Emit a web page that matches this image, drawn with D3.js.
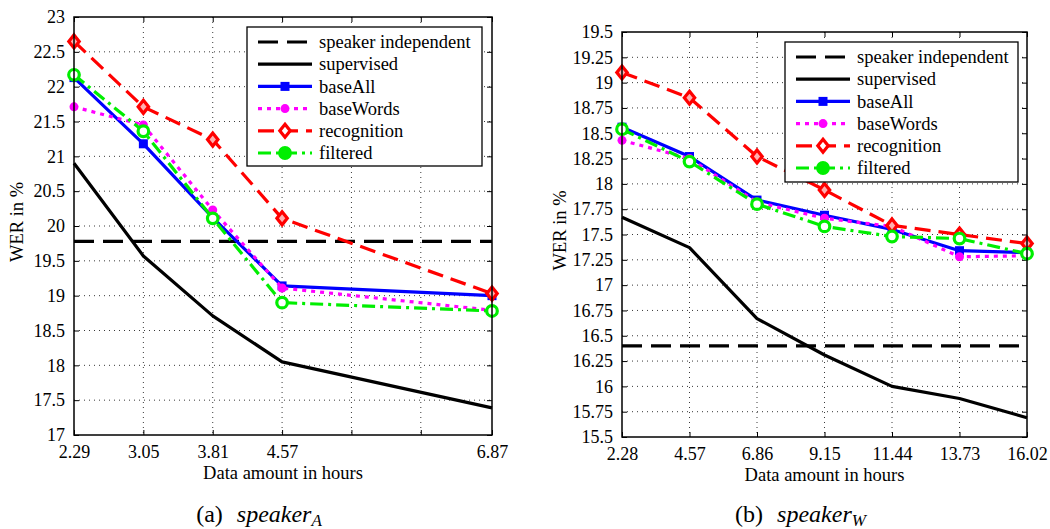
<!DOCTYPE html>
<html>
<head>
<meta charset="utf-8">
<script src="https://cdn.jsdelivr.net/npm/d3@7"></script>
<style>
  body { margin: 0; background: #fff; }
  svg text { font-family: "Liberation Serif", "Times New Roman", Times, serif; }
</style>
</head>
<body>
<div id="chart"></div>
<script>
// ---- panel (a): speaker A ----
const hoursA = [2.29, 3.05, 3.81, 4.57, 6.87];
const xTicksA = [2.29, 3.05, 3.81, 4.57, 5.33, 6.09, 6.87];
const xLabelsA = ["2.29", "3.05", "3.81", "4.57", "", "", "6.87"];
const yTicksA = [17, 17.5, 18, 18.5, 19, 19.5, 20, 20.5, 21, 21.5, 22, 22.5, 23];
const indepA = 19.78;
const supervisedA = [20.90, 19.57, 18.71, 18.05, 17.39];
const baseAllA = [22.13, 21.18, 20.12, 19.14, 19.00];
const baseWordsA = [21.71, 21.45, 20.23, 19.11, 18.79];
const recognitionA = [22.65, 21.71, 21.24, 20.11, 19.03];
const filteredA = [22.17, 21.36, 20.11, 18.90, 18.78];

// ---- panel (b): speaker W ----
const hoursW = [2.28, 4.57, 6.86, 9.15, 11.44, 13.73, 16.02];
const xTicksW = [2.28, 4.57, 6.86, 9.15, 11.44, 13.73, 16.02];
const xLabelsW = ["2.28", "4.57", "6.86", "9.15", "11.44", "13.73", "16.02"];
const yTicksW = [15.5, 15.75, 16, 16.25, 16.5, 16.75, 17, 17.25, 17.5, 17.75, 18, 18.25, 18.5, 18.75, 19, 19.25, 19.5];
const indepW = 16.40;
const supervisedW = [17.67, 17.37, 16.67, 16.31, 16.00, 15.88, 15.69];
const baseAllW = [18.56, 18.27, 17.84, 17.69, 17.55, 17.34, 17.32];
const baseWordsW = [18.43, 18.25, 17.82, 17.66, 17.58, 17.28, 17.29];
const recognitionW = [19.10, 18.85, 18.27, 17.94, 17.59, 17.50, 17.41];
const filteredW = [18.54, 18.22, 17.80, 17.58, 17.48, 17.46, 17.31];

const legendNames = ["speaker independent", "supervised", "baseAll", "baseWords", "recognition", "filtered"];

const styles = {
    indep: { color: "#000", dash: "20,9", marker: null },
    supervised: { color: "#000", dash: null, marker: null },
    baseAll: { color: "#0000ff", dash: null, marker: "square" },
    baseWords: { color: "#ff00ff", dash: "4,5", marker: "dot" },
    recognition: { color: "#ff0000", dash: "16,8", marker: "diamond" },
    filtered: { color: "#00ee00", dash: "13,5,3,5", marker: "circle" }
};
const styleOrder = ["indep", "supervised", "baseAll", "baseWords", "recognition", "filtered"];

const FONT = "Liberation Serif, Times New Roman, serif";
const width = 1050, height = 529;
const svg = d3.select("#chart").append("svg")
    .attr("width", width).attr("height", height);

function drawMarker(g, kind, color, cx, cy, legend) {
    if (kind === "square") {
        g.append("rect").attr("x", cx - 4.5).attr("y", cy - 4.5)
            .attr("width", 9).attr("height", 9).attr("fill", color);
    } else if (kind === "dot") {
        g.append("circle").attr("cx", cx).attr("cy", cy).attr("r", 4.5).attr("fill", color);
    } else if (kind === "diamond") {
        const s = 6.5;
        g.append("path")
            .attr("d", `M${cx},${cy - s}L${cx + s * 0.8},${cy}L${cx},${cy + s}L${cx - s * 0.8},${cy}Z`)
            .attr("fill", legend ? "#fff" : "#ffb0b0").attr("stroke", color).attr("stroke-width", 3.2);
    } else if (kind === "circle") {
        g.append("circle").attr("cx", cx).attr("cy", cy).attr("r", 5.3)
            .attr("fill", legend ? color : "#fff").attr("stroke", color).attr("stroke-width", 3.2);
    }
}

function drawPanel(p) {
    const { left, right, top, bottom } = p.box;
    const x = d3.scaleLinear().domain(d3.extent(p.xTicks)).range([left, right]);
    const y = d3.scaleLinear().domain(d3.extent(p.yTicks)).range([bottom, top]);
    const g = svg.append("g");

    // grid
    g.append("g").selectAll("line").data(p.xTicks.slice(1, -1)).join("line")
        .attr("x1", d => x(d)).attr("x2", d => x(d)).attr("y1", top).attr("y2", bottom)
        .attr("stroke", "#222").attr("stroke-width", 0.9).attr("stroke-dasharray", "1,4");
    g.append("g").selectAll("line").data(p.yTicks.slice(1, -1)).join("line")
        .attr("y1", d => y(d)).attr("y2", d => y(d)).attr("x1", left).attr("x2", right)
        .attr("stroke", "#222").attr("stroke-width", 0.9).attr("stroke-dasharray", "1,4");

    // axes with inward ticks on all sides
    const fmtX = (d, i) => p.xLabels[i];
    g.append("g").attr("transform", `translate(0,${bottom})`)
        .call(d3.axisBottom(x).tickValues(p.xTicks).tickFormat(fmtX).tickSizeInner(-5).tickSizeOuter(0).tickPadding(10))
        .call(a => a.select(".domain").remove());
    g.append("g").attr("transform", `translate(0,${top})`)
        .call(d3.axisTop(x).tickValues(p.xTicks).tickFormat("").tickSizeInner(-5).tickSizeOuter(0))
        .call(a => a.select(".domain").remove());
    g.append("g").attr("transform", `translate(${left},0)`)
        .call(d3.axisLeft(y).tickValues(p.yTicks).tickFormat(d3.format("")).tickSizeInner(-5).tickSizeOuter(0).tickPadding(9))
        .call(a => a.select(".domain").remove());
    g.append("g").attr("transform", `translate(${right},0)`)
        .call(d3.axisRight(y).tickValues(p.yTicks).tickFormat("").tickSizeInner(-5).tickSizeOuter(0))
        .call(a => a.select(".domain").remove());
    g.selectAll(".tick text").attr("font-size", 18).attr("fill", "#000")
        .attr("font-family", FONT);
    g.selectAll(".tick line").attr("stroke", "#000");

    // series
    const series = [
        ["indep", null],
        ["supervised", p.supervised],
        ["baseAll", p.baseAll],
        ["baseWords", p.baseWords],
        ["recognition", p.recognition],
        ["filtered", p.filtered]
    ];
    const line = d3.line().x(d => x(d[0])).y(d => y(d[1]));
    series.forEach(([key, vals]) => {
        const st = styles[key];
        const pts = key === "indep"
            ? [[x.domain()[0], p.indep], [x.domain()[1], p.indep]]
            : p.hours.map((h, i) => [h, vals[i]]);
        g.append("path").datum(pts).attr("d", line)
            .attr("fill", "none").attr("stroke", st.color).attr("stroke-width", 3.2)
            .attr("stroke-linejoin", "round")
            .attr("stroke-dasharray", st.dash);
        if (st.marker) {
            const mg = g.append("g");
            pts.forEach(d => drawMarker(mg, st.marker, st.color, x(d[0]), y(d[1]), false));
        }
    });

    // frame
    g.append("rect").attr("x", left).attr("y", top)
        .attr("width", right - left).attr("height", bottom - top)
        .attr("fill", "none").attr("stroke", "#000").attr("stroke-width", 1.5);

    // legend
    const L = p.legend;
    const lg = g.append("g");
    lg.append("rect").attr("x", L.x).attr("y", L.y).attr("width", L.w).attr("height", L.h)
        .attr("fill", "#fff").attr("stroke", "#000").attr("stroke-width", 1.3);
    styleOrder.forEach((key, i) => {
        const st = styles[key];
        const cy = L.y + 15 + i * 22.2;
        const x0 = L.x + 11, x1 = L.x + 65;
        lg.append("line").attr("x1", x0).attr("x2", x1).attr("y1", cy).attr("y2", cy)
            .attr("stroke", st.color).attr("stroke-width", 3.2)
            .attr("stroke-dasharray", st.dash);
        if (st.marker) drawMarker(lg, st.marker, st.color, (x0 + x1) / 2, cy, true);
        lg.append("text").attr("x", L.x + 72).attr("y", cy).attr("dy", "0.33em")
            .attr("font-family", FONT).attr("font-size", 18.5).text(legendNames[i]);
    });

    // axis titles
    g.append("text").attr("x", (left + right) / 2).attr("y", bottom + 44)
        .attr("text-anchor", "middle").attr("font-family", FONT).attr("font-size", 18.5)
        .text("Data amount in hours");
    g.append("text")
        .attr("transform", `translate(${p.yTitleX},${(top + bottom) / 2 - 4}) rotate(-90)`)
        .attr("text-anchor", "middle").attr("font-family", FONT).attr("font-size", 18.5)
        .text("WER in %");

    // caption
    const cap = g.append("text").attr("x", (left + right) / 2 - 24).attr("y", 522)
        .attr("text-anchor", "middle").attr("font-size", 24)
        .attr("font-family", FONT);
    cap.append("tspan").text(p.capLetter);
    cap.append("tspan").attr("dx", 14).attr("font-style", "italic").text("speaker");
    cap.append("tspan").attr("font-style", "italic").attr("font-size", 17).attr("dy", 4).text(p.capSub);
}

drawPanel({
    box: { left: 74, right: 492, top: 17, bottom: 435 },
    hours: hoursA, xTicks: xTicksA, xLabels: xLabelsA, yTicks: yTicksA,
    indep: indepA, supervised: supervisedA, baseAll: baseAllA, baseWords: baseWordsA,
    recognition: recognitionA, filtered: filteredA,
    legend: { x: 247, y: 27, w: 235, h: 139 },
    yTitleX: 23, capLetter: "(a)", capSub: "A"
});

drawPanel({
    box: { left: 622, right: 1027, top: 32, bottom: 437 },
    hours: hoursW, xTicks: xTicksW, xLabels: xLabelsW, yTicks: yTicksW,
    indep: indepW, supervised: supervisedW, baseAll: baseAllW, baseWords: baseWordsW,
    recognition: recognitionW, filtered: filteredW,
    legend: { x: 785, y: 42, w: 233, h: 140 },
    yTitleX: 566, capLetter: "(b)", capSub: "W"
});
</script>
</body>
</html>
